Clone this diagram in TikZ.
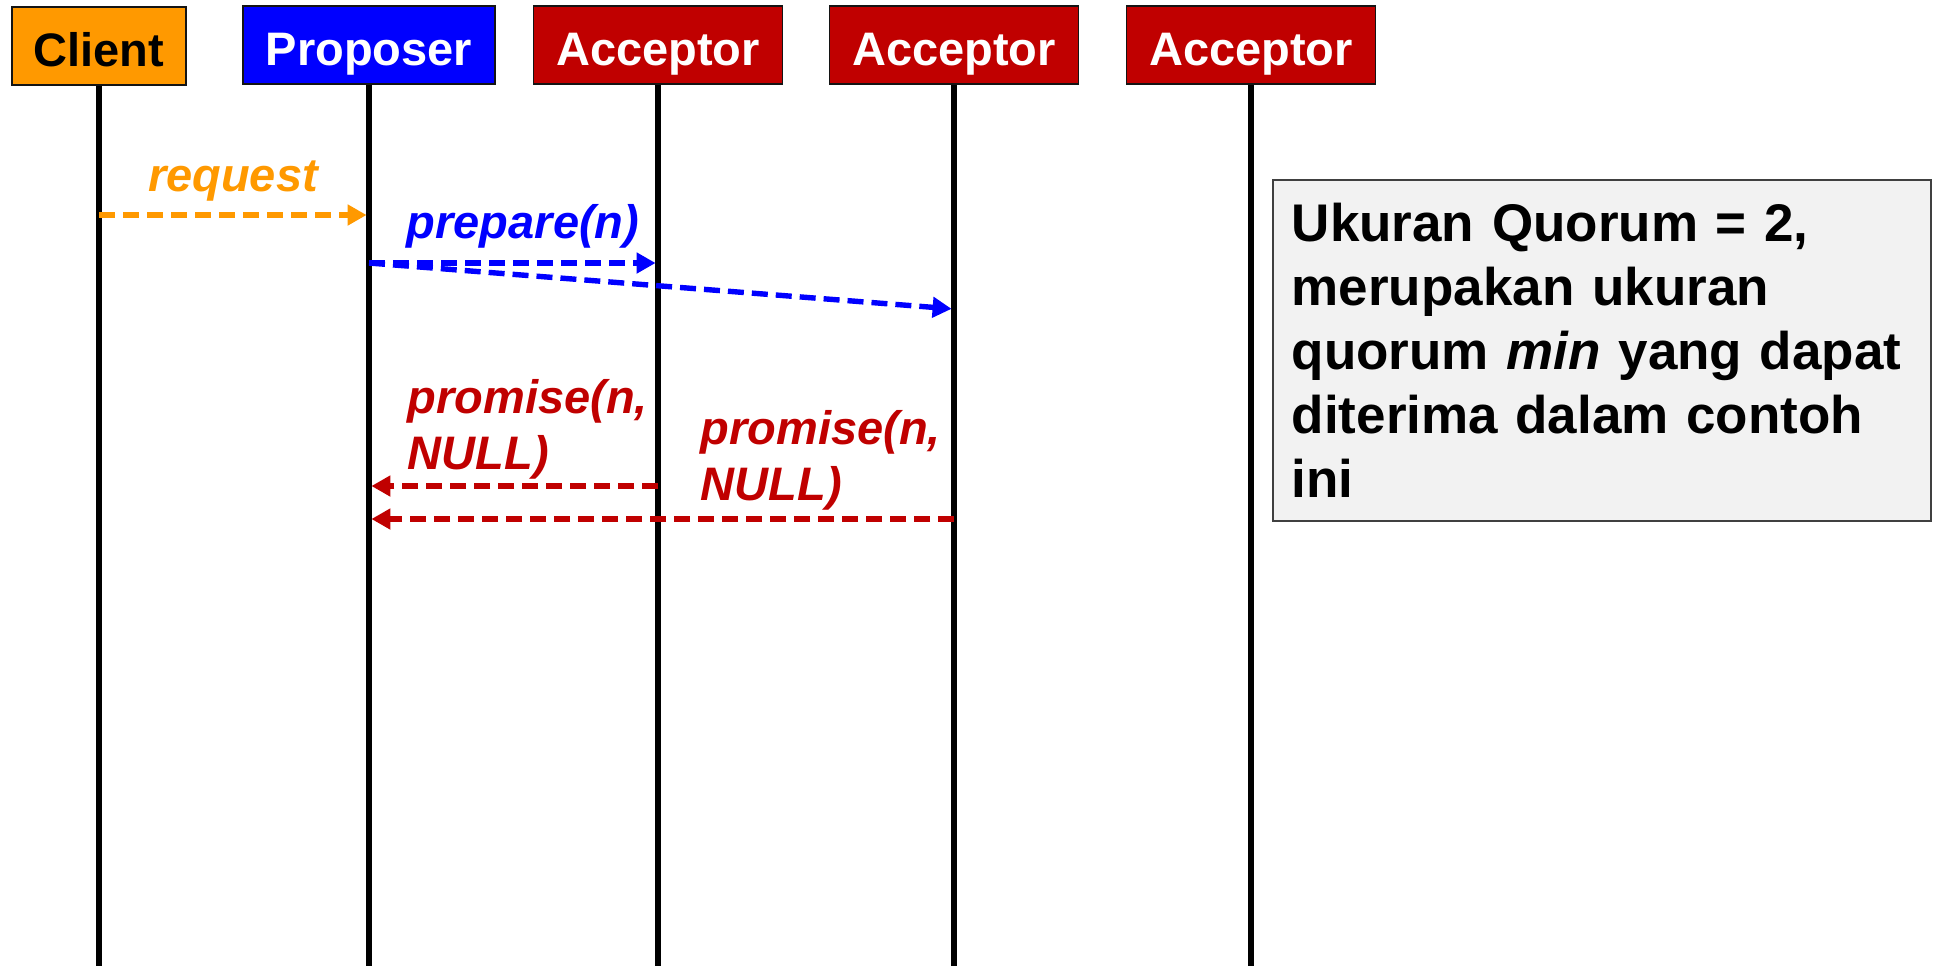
\documentclass[tikz,border=0pt]{standalone}
\usepackage{fontspec}
\setmainfont{Liberation Sans}
\usetikzlibrary{arrows.meta}

\definecolor{clientorange}{RGB}{255,153,0}
\definecolor{proposerblue}{RGB}{0,0,255}
\definecolor{acceptorred}{RGB}{192,0,0}
\definecolor{notefill}{RGB}{242,242,242}
\definecolor{noteborder}{RGB}{64,64,64}

\tikzset{every picture/.style={line width=0.75pt}}
\tikzset{
  actor/.style={draw={rgb, 255:red, 20; green, 20; blue, 20 }, line width=0.75pt, minimum height=39pt, inner sep=0pt, text height=21pt, text depth=1pt, font=\fontsize{23.5}{28}\selectfont\bfseries},
  lifeline/.style={line width=2.6pt},
  msg/.style={line width=2.7pt, dash pattern={on 8pt off 4pt}, shorten >=1.2pt, -{Triangle[length=9.5pt,width=10pt]}},
  msglabel/.style={inner sep=0pt, font=\fontsize{23.5}{28}\selectfont\bfseries\itshape},
}

\begin{document}
\begin{tikzpicture}[x=0.5pt,y=0.5pt,yscale=-1,xscale=1]
\path[use as bounding box] (0,0) rectangle (1936,966);

% Actors
\node[actor, fill=clientorange, minimum width=87pt] (client) at (99,46) {Client};
\node[actor, fill=proposerblue, text=white, minimum width=126pt] (proposer) at (369,45) {Proposer};
\node[actor, fill=acceptorred, text=white, minimum width=124.5pt] (acc1) at (658,45) {Acceptor};
\node[actor, fill=acceptorred, text=white, minimum width=124.5pt] (acc2) at (954,45) {Acceptor};
\node[actor, fill=acceptorred, text=white, minimum width=124.5pt] (acc3) at (1251,45) {Acceptor};

% Lifelines
\coordinate (bottom) at (0,966);
\draw[lifeline] (client.south) -- (client.south |- bottom);
\draw[lifeline] (proposer.south) -- (proposer.south |- bottom);
\draw[lifeline] (acc1.south) -- (acc1.south |- bottom);
\draw[lifeline] (acc2.south) -- (acc2.south |- bottom);
\draw[lifeline] (acc3.south) -- (acc3.south |- bottom);

% Message levels
\coordinate (yrequest) at (0,215);
\coordinate (yprepare) at (0,263);
\coordinate (yprepareb) at (0,309);
\coordinate (ypromise) at (0,486);
\coordinate (ypromiseb) at (0,519);

% Phase 1a
\draw[msg, clientorange] (client |- yrequest) -- (proposer |- yrequest);
\draw[msg, proposerblue] (proposer |- yprepare) -- (acc1 |- yprepare);
\draw[msg, proposerblue] (proposer |- yprepare) -- (acc2 |- yprepareb);

% Phase 1b
\draw[msg, acceptorred] (acc1 |- ypromise) -- (proposer |- ypromise);
\draw[msg, acceptorred] (acc2 |- ypromiseb) -- (proposer |- ypromiseb);

% Text Node
\node[msglabel, text=clientorange, anchor=base] (lblrequest) at (233,191) {request};
% Text Node
\node[msglabel, text=proposerblue, anchor=base] (lblprepare) at (523,238) {prepare(n)};
% Text Node
\node[msglabel, text=acceptorred, align=left, anchor=north west] (lblpromise) at (407,379) {promise(n,\\NULL)};
% Text Node
\node[msglabel, text=acceptorred, align=left, anchor=north west] (lblpromiseb) at (700,410) {promise(n,\\NULL)};

% Note
\node[draw=noteborder, fill=notefill, line width=0.75pt, anchor=north west, text width=310pt, minimum height=170.5pt, inner xsep=9.5pt, align=left, font=\fontsize{26.5}{32}\selectfont\bfseries] (quorum) at (1272,179) {Ukuran Quorum = 2,\\merupakan ukuran\\quorum \textit{min} yang dapat\\diterima dalam contoh\\ini};

\end{tikzpicture}
\end{document}
